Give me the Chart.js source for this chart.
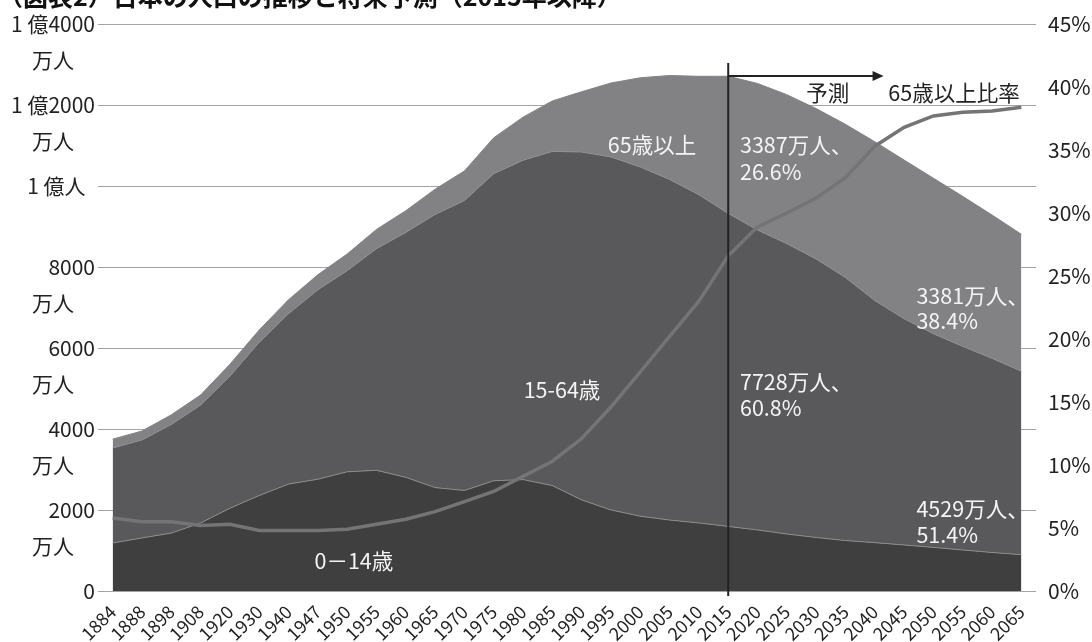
<!DOCTYPE html>
<html>
<head>
<meta charset="utf-8">
<script src="https://cdn.jsdelivr.net/npm/chart.js@4/dist/chart.umd.min.js"></script>
<style>
  html, body { margin: 0; padding: 0; background: #fff; }
</style>
</head>
<body>
<canvas id="mygraph" width="1092" height="642"></canvas>
<script>
let years = ["1884","1888","1898","1908","1920","1930","1940","1947","1950","1955","1960","1965","1970","1975","1980","1985","1990","1995","2000","2005","2010","2015","2020","2025","2030","2035","2040","2045","2050","2055","2060","2065"];

// population in 万人
var age0_14  = [1185,1310,1430,1680,2043,2358,2640,2760,2943,2980,2807,2553,2482,2722,2751,2603,2249,2001,1847,1752,1680,1595,1507,1407,1321,1246,1194,1138,1077,1012,951,898];
var age15_64 = [2345,2420,2680,2910,3262,3781,4208,4676,4966,5473,6047,6744,7157,7581,7884,8251,8590,8716,8622,8409,8103,7728,7406,7170,6875,6494,5978,5584,5275,5028,4793,4529];
var age65    = [220,220,240,250,294,306,345,374,411,475,535,624,733,887,1065,1247,1489,1826,2204,2567,2925,3387,3619,3677,3716,3782,3921,3919,3841,3704,3540,3381];
// 65歳以上比率 (%)
var ratio65  = [5.8,5.5,5.5,5.2,5.3,4.8,4.8,4.8,4.9,5.3,5.7,6.3,7.1,7.9,9.1,10.3,12.1,14.6,17.4,20.2,23.0,26.6,28.9,30.0,31.2,32.8,35.3,36.8,37.7,38.0,38.1,38.4];

var leftTicks = [0,2000,4000,6000,8000,10000,12000,14000];
var leftTickLabels = [["0",""],["2000","万人\u3000"],["4000","万人\u3000"],["6000","万人\u3000"],["8000","万人\u3000"],["1 億人  ",""],["1 億2000","万人\u3000"],["1 億4000","万人\u3000"]];

var forecastYear = "2015";

// text notes: [text, category index, value(万人), colour, align]
var notes = [
  ["65歳以上", 18.4, 11012, "#f4f4f4", "center"],
  ["3387万人、", 21.4, 11012, "#f4f4f4", "left"],
  ["26.6%", 21.4, 10345, "#f4f4f4", "left"],
  ["15-64歳", 15.33, 4963, "#f4f4f4", "center"],
  ["7728万人、", 21.4, 5160, "#f4f4f4", "left"],
  ["60.8%", 21.4, 4518, "#f4f4f4", "left"],
  ["3381万人、", 27.42, 7284, "#f4f4f4", "left"],
  ["38.4%", 27.42, 6667, "#f4f4f4", "left"],
  ["4529万人、", 27.42, 2025, "#f4f4f4", "left"],
  ["51.4%", 27.42, 1383, "#f4f4f4", "left"],
  ["0－14歳", 8.23, 741, "#f4f4f4", "center"],
  ["予測", 23.66, 12296, "#222", "left"],
  ["65歳以上比率", 26.46, 12296, "#222", "left"]
];

var titleText = "（図表2）日本の人口の推移と将来予測（2015年以降）";

const FONT = "'Noto Sans CJK JP', 'Noto Sans', sans-serif";

const overlay = {
  id: 'overlay',
  afterDatasetsDraw(chart) {
    const ctx = chart.ctx;
    const x = chart.scales.x, y = chart.scales.y;
    ctx.save();
    // forecast divider + arrow
    const fx = x.getPixelForValue(years.indexOf(forecastYear));
    ctx.strokeStyle = "#222";
    ctx.lineWidth = 2;
    ctx.beginPath();
    ctx.moveTo(fx, y.getPixelForValue(13037));
    ctx.lineTo(fx, chart.chartArea.bottom + 5);
    ctx.stroke();
    const ay = y.getPixelForValue(12716);
    const ax2 = x.getPixelForValue(26.3);
    ctx.beginPath();
    ctx.moveTo(fx, ay);
    ctx.lineTo(ax2 - 8, ay);
    ctx.stroke();
    ctx.fillStyle = "#222";
    ctx.beginPath();
    ctx.moveTo(ax2, ay);
    ctx.lineTo(ax2 - 11, ay - 5);
    ctx.lineTo(ax2 - 11, ay + 5);
    ctx.closePath();
    ctx.fill();
    // notes
    ctx.font = "21.5px " + FONT;
    ctx.textBaseline = "middle";
    notes.forEach(n => {
      ctx.fillStyle = n[3];
      ctx.textAlign = n[4];
      ctx.fillText(n[0], x.getPixelForValue(n[1]), y.getPixelForValue(n[2]));
    });
    // title (cut at the top edge like the original)
    ctx.font = "bold 25px " + FONT;
    ctx.fillStyle = "#111";
    ctx.textAlign = "left";
    ctx.textBaseline = "bottom";
    ctx.fillText(titleText, -2, 9);
    ctx.restore();
  }
};

var ctx = document.getElementById("mygraph");

var mygraph = new Chart(ctx, {
  type: 'line',
  data: {
    labels: years,
    datasets: [
      {
        label: "65歳以上比率",
        data: ratio65,
        yAxisID: 'y1',
        borderColor: "#747476",
        borderWidth: 3.5,
        fill: false,
        order: 0
      },
      {
        label: "0-14歳",
        data: age0_14,
        yAxisID: 'y',
        stack: 'pop',
        backgroundColor: "#3f3f3f",
        borderColor: "#8a8a8a",
        borderWidth: 1,
        fill: 'origin',
        order: 1
      },
      {
        label: "15-64歳",
        data: age15_64,
        yAxisID: 'y',
        stack: 'pop',
        backgroundColor: "#59595b",
        borderColor: "#8e8e90",
        borderWidth: 1,
        fill: '-1',
        order: 1
      },
      {
        label: "65歳以上",
        data: age65,
        yAxisID: 'y',
        stack: 'pop',
        backgroundColor: "#828285",
        borderColor: "#828285",
        borderWidth: 1,
        fill: '-1',
        order: 1
      }
    ]
  },
  options: {
    responsive: false,
    animation: false,
    devicePixelRatio: 1,
    layout: { padding: { top: 24, left: 0, right: 0, bottom: 0 } },
    elements: { point: { radius: 0 }, line: { tension: 0 } },
    plugins: {
      legend: { display: false },
      tooltip: { enabled: false }
    },
    scales: {
      x: {
        offset: true,
        grid: { display: false },
        border: { display: false },
        ticks: {
          autoSkip: false,
          maxRotation: 45,
          minRotation: 45,
          padding: 2,
          color: "#222",
          font: { family: FONT, size: 18 }
        },
        afterFit(s) { s.height = 51; s.paddingLeft = 0; s.paddingRight = 0; }
      },
      y: {
        position: 'left',
        stacked: true,
        min: 0,
        max: 14000,
        afterBuildTicks(s) { s.ticks = leftTicks.map(v => ({ value: v })); },
        grid: { color: "#a3a3a3", lineWidth: 1, drawTicks: false },
        border: { display: false },
        ticks: {
          crossAlign: 'near',
          padding: 3,
          labelOffset: 18,
          color: "#222",
          font: { family: FONT, size: 21, lineHeight: 1.72 },
          callback: (v) => leftTickLabels[leftTicks.indexOf(v)]
        },
        afterFit(s) { s.width = 98; s.paddingTop = 0; s.paddingBottom = 0; }
      },
      y1: {
        position: 'right',
        min: 0,
        max: 45,
        grid: { display: false, drawTicks: false },
        border: { display: false },
        ticks: {
          stepSize: 5,
          padding: 12,
          color: "#222",
          font: { family: FONT, size: 21 },
          callback: (v) => v + "%"
        },
        afterFit(s) { s.width = 56; s.paddingTop = 0; s.paddingBottom = 0; }
      }
    }
  },
  plugins: [overlay]
});
</script>
</body>
</html>
